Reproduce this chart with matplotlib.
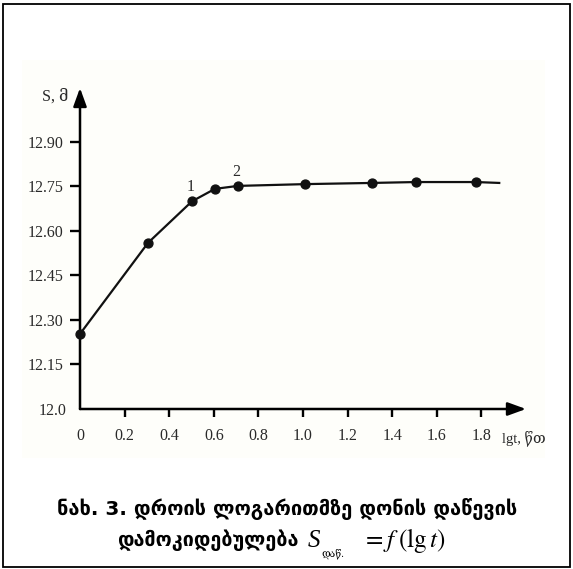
import matplotlib
matplotlib.use("Agg")
import matplotlib.pyplot as plt
from matplotlib.patches import Rectangle

# Measured level drop S (m) against the logarithm of time
lg_t = [0.0, 0.305, 0.502, 0.605, 0.708, 1.009, 1.309, 1.507, 1.776]
s_level = [12.253, 12.56, 12.70, 12.742, 12.752, 12.758, 12.762, 12.765, 12.765]
# Curve continues a little past the last measurement
tail_lg_t = [1.776, 1.88]
tail_s = [12.765, 12.762]

# Numbered points on the curve
marked_idx = [2, 4]
marked_text = ["1", "2"]

x_ticks = [0.2, 0.4, 0.6, 0.8, 1.0, 1.2, 1.4, 1.6, 1.8]
x_tick_labels = ["0.2", "0.4", "0.6", "0.8", "1.0", "1.2", "1.4", "1.6", "1.8"]
y_ticks = [12.15, 12.30, 12.45, 12.60, 12.75, 12.90]
y_tick_labels = ["12.15", "12.30", "12.45", "12.60", "12.75", "12.90"]

W, H = 573, 569
plt.rcParams["mathtext.fontset"] = "stix"
fig = plt.figure(figsize=(W / 100, H / 100), dpi=100)


def fx(px):
    return px / W


def fy(py):
    return 1 - py / H


serif = ["Liberation Serif", "DejaVu Serif", "DejaVu Sans"]
ink = "#2a2a2a"

# light backdrop of the chart panel
fig.patches.append(Rectangle((fx(22), fy(458)), fx(545) - fx(22), fy(60) - fy(458),
                             transform=fig.transFigure, facecolor="#fefefa",
                             edgecolor="none", zorder=-10))
# outer frame
fig.patches.append(Rectangle((fx(2.5), fy(567)), fx(570) - fx(2.5), fy(3.5) - fy(567),
                             transform=fig.transFigure, facecolor="none",
                             edgecolor="black", linewidth=1.3, zorder=5))

ax = fig.add_axes([fx(80), fy(409), fx(526) - fx(80), fy(88) - fy(409)])
ax.set_zorder(2)
ax.set_xlim(0, 2.0)
ax.set_ylim(12.0, 13.082)
ax.patch.set_visible(False)
for s in ax.spines.values():
    s.set_visible(False)

# axes drawn as arrows
arrow_kw = dict(arrowstyle="-|>,head_length=1.1,head_width=0.4", mutation_scale=10,
                lw=1.8, color="black", shrinkA=0, shrinkB=0)
ax.annotate("", xy=(2.0, 12.0), xytext=(0, 12.0), arrowprops=arrow_kw,
            annotation_clip=False)
ax.annotate("", xy=(0, 13.082), xytext=(0, 12.0), arrowprops=arrow_kw,
            annotation_clip=False)

ax.set_xticks(x_ticks)
ax.set_xticklabels(x_tick_labels)
ax.set_xticks([0.0], minor=True)
ax.set_xticklabels(["0"], minor=True)
ax.set_yticks(y_ticks)
ax.set_yticklabels(y_tick_labels)
ax.set_yticks([12.0], minor=True)
ax.set_yticklabels(["12.0"], minor=True)

ax.tick_params(axis="x", which="major", direction="out", length=5.8, width=1.7,
               pad=8.2, color="black")
ax.tick_params(axis="x", which="minor", length=0, pad=14.0)
ax.tick_params(axis="y", which="major", direction="out", length=7.2, width=1.7,
               pad=4.5, color="black")
ax.tick_params(axis="y", which="minor", length=0, pad=9.5)
for lab in ax.get_xticklabels(which="both") + ax.get_yticklabels(which="both"):
    lab.set_fontfamily(serif)
    lab.set_fontsize(11.5)
    lab.set_color(ink)

ax.plot(lg_t, s_level, color="#111111", lw=1.6, marker="o", markersize=6.4,
        markerfacecolor="#111111", markeredgecolor="#111111", clip_on=False, zorder=3)
ax.plot(tail_lg_t, tail_s, color="#111111", lw=1.6, clip_on=False, zorder=3)

for i, t in zip(marked_idx, marked_text):
    ax.annotate(t, xy=(lg_t[i], s_level[i]), xytext=(-1, 4.5), textcoords="offset points",
                ha="center", va="bottom", fontsize=11.5, family=serif, color=ink)

# axis captions
fig.text(fx(55), fy(97), "S, მ", ha="center", va="center", fontsize=11.5,
         family=serif, color=ink)
fig.text(fx(524), fy(438), "lgt, წთ", ha="center", va="center", fontsize=10.5,
         family=serif, color=ink)

# figure caption
fig.text(fx(287), fy(509), "ნახ. 3. დროის ლოგარითმზე დონის დაწევის",
         ha="center", va="center", fontsize=14.4, fontweight="bold",
         family=["DejaVu Sans"], color="black")
fig.text(fx(117), fy(540), "დამოკიდებულება", ha="left", va="center", fontsize=14.2,
         fontweight="bold", family=["DejaVu Sans"], color="black")
fig.text(fx(308), fy(547), "S", ha="left", va="baseline", fontsize=18,
         style="italic", family=serif, color="black")
fig.text(fx(321), fy(556), "დაწ.", ha="left", va="baseline", fontsize=7.5,
         family=serif, color="black")
fig.text(fx(362), fy(547), r"$=f\;(\mathrm{lg}\,t)$", ha="left", va="baseline",
         fontsize=18, color="black")

fig.savefig("out.png", dpi=100)
